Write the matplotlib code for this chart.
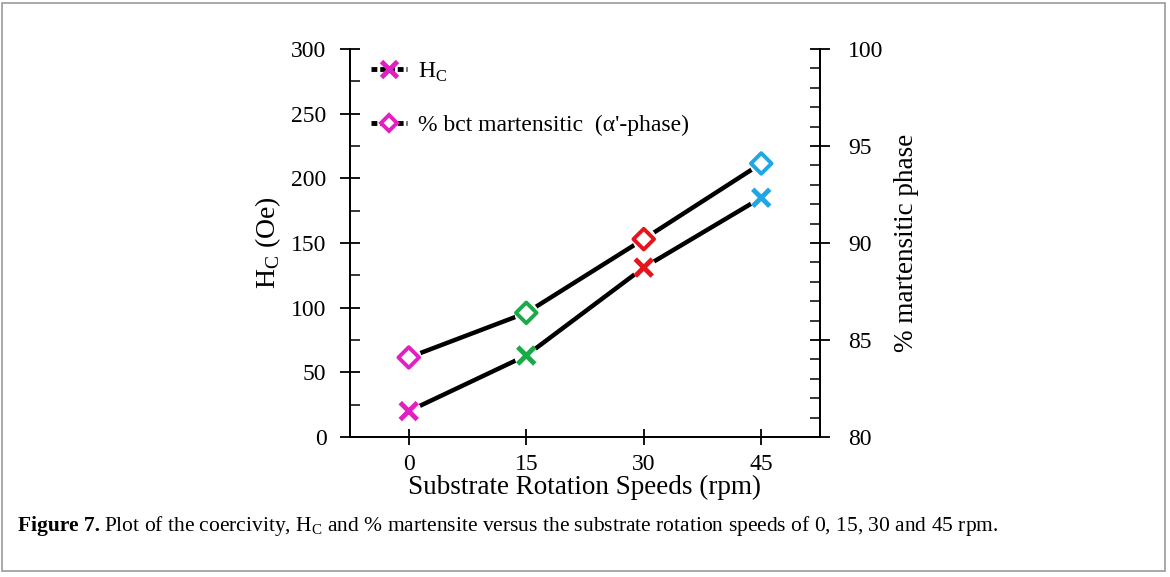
import matplotlib
matplotlib.use("Agg")
import matplotlib.pyplot as plt
from matplotlib.ticker import MultipleLocator
from matplotlib.patches import Rectangle

plt.rcParams['font.family'] = ['Liberation Serif', 'DejaVu Serif']
plt.rcParams['mathtext.fontset'] = 'custom'
plt.rcParams['mathtext.rm'] = 'Liberation Serif'

speeds = [0, 15, 30, 45]
hc = [20, 63, 131, 185]
martensite = [84.1, 86.4, 90.2, 94.1]
point_colors = ['#e41fc1', '#1aaa4a', '#e8141c', '#1ea6e6']

fig = plt.figure(figsize=(11.7, 5.77), dpi=100)
ax = fig.add_axes([350/1170, 1-437/577, 470/1170, 388/577])
ax2 = ax.twinx()

# lines
ax.plot(speeds, hc, color='black', lw=3.2, zorder=1)
ax2.plot(speeds, martensite, color='black', lw=3.2, zorder=1)
# white halo then coloured markers
ax.scatter(speeds, hc, s=260, marker='o', color='white', zorder=2)
ax.scatter(speeds, hc, s=150, marker='x', c=point_colors, linewidths=3.5, zorder=3)
ax2.scatter(speeds, martensite, s=260, marker='o', color='white', zorder=2)
ax2.scatter(speeds, martensite, s=110, marker='D', facecolors='white',
            edgecolors=point_colors, linewidths=2.8, zorder=3)

ax.set_xlim(-7.5, 52.5)
ax.set_ylim(0, 300)
ax2.set_ylim(80, 100)
ax.set_xticks(speeds)
ax.yaxis.set_major_locator(MultipleLocator(50))
ax.yaxis.set_minor_locator(MultipleLocator(25))
ax2.yaxis.set_major_locator(MultipleLocator(5))
ax2.yaxis.set_minor_locator(MultipleLocator(1))

for a in (ax, ax2):
    a.spines['top'].set_visible(False)
    a.spines['left'].set_linewidth(1.3)
    a.spines['right'].set_linewidth(1.3)
    a.spines['bottom'].set_linewidth(1.3)
    a.tick_params(labelsize=17, width=1.3)
ax.tick_params(axis='y', which='major', direction='inout', length=14, right=False, pad=10)
ax.tick_params(axis='y', which='minor', direction='in', length=7, width=1.1)
ax.tick_params(axis='x', which='major', direction='inout', length=12, pad=6)
ax2.tick_params(axis='y', which='major', direction='inout', length=14, pad=13)
ax2.tick_params(axis='y', which='minor', direction='in', length=7, width=1.1)

ax.set_xlabel('Substrate Rotation Speeds (rpm)', fontsize=19.5, labelpad=0)
ax.set_ylabel(r'H$_\mathregular{C}$ (Oe)', fontsize=20, labelpad=6)
ax2.set_ylabel('% martensitic phase', fontsize=19.5, labelpad=8)

# legend
h1, = ax.plot([], [], color='black', lw=3.5, marker='x', ms=11, mew=3.5,
              mec=point_colors[0], dashes=[1.2, 0.6])
h2, = ax.plot([], [], color='black', lw=3.5, marker='D', ms=8, mew=2.8,
              mec=point_colors[0], mfc='white', dashes=[1.2, 0.6])
ax.legend([h1, h2], [r'H$_\mathregular{C}$', "% bct martensitic  (α'-phase)"],
          loc='upper left', bbox_to_anchor=(0.0, 1.025), frameon=False,
          fontsize=17, handlelength=1.5, labelspacing=1.3, handletextpad=0.5)

# caption
fig.patches.append(Rectangle((0.002, 0.01), 0.994, 0.985, transform=fig.transFigure,
                             fill=False, edgecolor='#999999', lw=1.2))
cy = 1 - 526/577
t1 = fig.text(18/1170, cy, 'Figure 7.', fontsize=15.5, fontweight='bold', va='center')
fig.canvas.draw()
bb = t1.get_window_extent()
fig.text((bb.x1 + 4)/1170, cy,
         r'Plot of the coercivity, H$_\mathregular{C}$ and % martensite versus the substrate rotation speeds of 0, 15, 30 and 45 rpm.',
         fontsize=15.5, va='center')

fig.savefig('out.png', dpi=100)
